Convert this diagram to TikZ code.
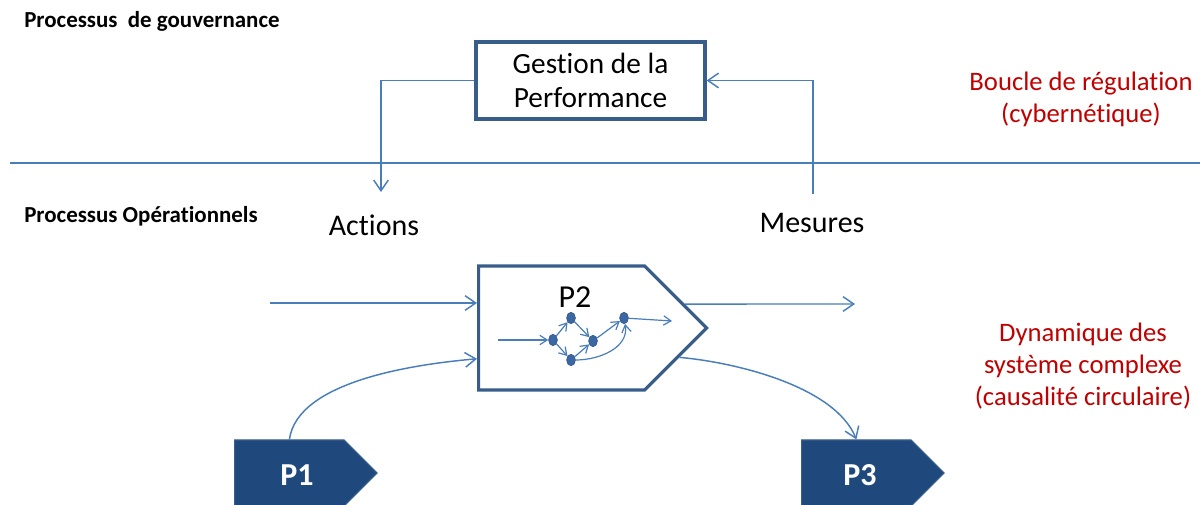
\documentclass[tikz,border=0pt]{standalone}
\usepackage{fontspec}
\setmainfont[Ligatures={NoCommon,NoRequired}]{Carlito}
\usepackage{tikz}
\usetikzlibrary{arrows.meta,shapes.symbols,shapes.geometric}
\definecolor{gvline}{RGB}{74,126,187}
\definecolor{gvbox}{RGB}{56,93,138}
\definecolor{gvdark}{RGB}{31,73,125}
\definecolor{gvdot}{RGB}{59,104,165}
\definecolor{gvred}{RGB}{192,0,0}
\newcommand{\fs}[2]{\fontsize{#1}{#2}\selectfont}

\begin{document}
\begin{tikzpicture}[x=0.75pt,y=-0.75pt,
    conn/.style={gvline,line width=1.1pt,-{Straight Barb[length=8pt,width=11pt,line width=1.1pt]}},
    small/.style={gvline,line width=0.9pt,-{Straight Barb[length=5.5pt,width=7pt,line width=0.9pt]}},
    procbox/.style={shape=signal,draw=gvbox,line width=2.4pt,fill=white,inner sep=0pt},
    darkbox/.style={shape=signal,draw=gvbox,line width=0.8pt,fill=gvdark,inner sep=0pt,
        minimum width=107pt,minimum height=49.5pt,anchor=west},
    dot/.style={ellipse,fill=gvdot,draw=gvbox,line width=0.6pt,inner sep=0pt,
        minimum width=6.5pt,minimum height=8.5pt},
    redtxt/.style={text=gvred,align=center,font=\fs{20}{24}}]

\useasboundingbox (0,0) rectangle (1200,505);

% separation gouvernance / operationnel
\draw[gvline,line width=1.1pt] (10,163) -- (1200,163);

\node[anchor=west,inner sep=0pt,font=\bfseries\fs{17.2}{20}] (gouv) at (24,21) {Processus\ \ de gouvernance};
\node[anchor=west,inner sep=0pt,font=\bfseries\fs{17.2}{20}] (oper) at (24,216) {Processus Opérationnels};

\node[draw=gvbox,line width=2.4pt,minimum width=171.75pt,minimum height=57.75pt,
    align=center,inner sep=0pt,font=\fs{22}{25.5}] (gestion) at (590.5,80.5)
    {Gestion de la\\Performance};

\node[font=\fs{22.5}{26}] (actions) at (374,225) {Actions};
\node[font=\fs{22.5}{26}] (mesures) at (812,223) {Mesures};

\coordinate (actin) at (381,192);
\coordinate (mesout) at (813,194);
\draw[conn] (gestion.west) -| (actin);
\draw[conn] (mesout) |- (gestion.east);

\node[redtxt] (boucle) at (1081,99.5) {Boucle de régulation\\(cybernétique)};
\node[redtxt] (dynamique) at (1083,366) {Dynamique des\\système complexe\\(causalité circulaire)};

% processus P2
\node[procbox,minimum width=171pt,minimum height=93pt,anchor=west] (p2) at (477,328) {};
\node[font=\fs{24}{28}] (p2lbl) at (575,297) {P2};

\node[darkbox] (p1) at (234,473) {};
\node[text=white,font=\bfseries\fs{24}{29}] (p1lbl) at (297,475) {P1};
\node[darkbox] (p3) at (801,473) {};
\node[text=white,font=\bfseries\fs{24}{29}] (p3lbl) at (860,475) {P3};

\coordinate (in2) at (270,303);
\coordinate (out2) at (855,304);
\draw[conn] (in2) -- (in2 -| p2.west);
\draw[conn] (p2.11) -- (out2);
\draw[conn] (p1.north) to[out=82,in=185,looseness=0.75] (p2.200.7);
\draw[conn] (p2.-14.5) to[out=-5,in=112,looseness=0.75] (p3.north);

% reseau interne
\foreach \n/\x/\y in {a/553/340, b/571/318, c/571/360, d/593/341, e/624/318}
    \node[dot] (n\n) at (\x,\y) {};

\coordinate (nin) at (498,340);
\coordinate (nout) at (672,321);
\draw[small] (nin) -- (na);
\foreach \s/\t in {a/b, a/c, b/d, c/d, d/e}
    \draw[small] (n\s) -- (n\t);
\draw[small] (nc) to[out=0,in=-80] (ne);
\draw[small] (ne) -- (nout);

\end{tikzpicture}
\end{document}
